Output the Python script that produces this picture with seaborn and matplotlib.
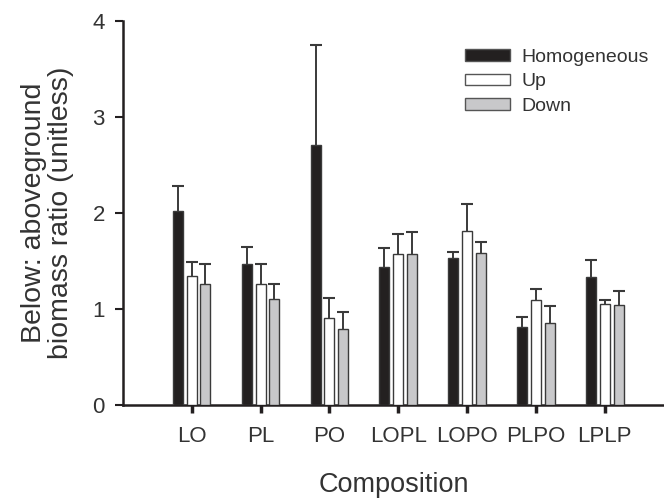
import matplotlib
matplotlib.use("Agg")
import matplotlib.pyplot as plt
import seaborn as sns
import pandas as pd
import numpy as np

compositions = ["LO", "PL", "PO", "LOPL", "LOPO", "PLPO", "LPLP"]
treatments = ["Homogeneous", "Up", "Down"]
homogeneous = [2.02, 1.47, 2.71, 1.44, 1.53, 0.81, 1.33]
homogeneous_err = [0.26, 0.18, 1.04, 0.19, 0.06, 0.11, 0.18]
up = [1.34, 1.26, 0.91, 1.57, 1.81, 1.09, 1.05]
up_err = [0.15, 0.21, 0.20, 0.21, 0.28, 0.12, 0.04]
down = [1.26, 1.10, 0.79, 1.57, 1.58, 0.85, 1.04]
down_err = [0.21, 0.16, 0.18, 0.23, 0.12, 0.18, 0.15]

rows = []
for t, vals, errs in [("Homogeneous", homogeneous, homogeneous_err),
                      ("Up", up, up_err), ("Down", down, down_err)]:
    for c, v, e in zip(compositions, vals, errs):
        rows.append({"Composition": c, "Treatment": t, "Ratio": v, "Err": e})
df = pd.DataFrame(rows)

sns.set_theme(style="ticks")
plt.rcParams['font.family'] = ['Liberation Sans', 'DejaVu Sans']

fig = plt.figure(figsize=(6.64, 5.01), dpi=100)
ax = fig.add_axes([0.185, 0.192, 0.815, 0.766])

colors = {"Homogeneous": "#231f20", "Up": "#ffffff", "Down": "#c8c8ca"}
sns.barplot(data=df, x="Composition", y="Ratio", hue="Treatment",
            hue_order=treatments, order=compositions, palette=colors,
            width=0.6, gap=0.27, errorbar=None, ax=ax,
            edgecolor="#3a3a3a", linewidth=1.0, zorder=3)

# error bars (upper only)
ecol = "#3a3a3a"
for cont, t in zip(ax.containers, treatments):
    sub = df[df.Treatment == t].set_index("Composition").loc[compositions]
    xs = np.array([p.get_x() + p.get_width() / 2 for p in cont.patches])
    hs = np.array([p.get_height() for p in cont.patches])
    tops = hs + sub["Err"].values
    ax.vlines(xs, hs, tops, colors=ecol, linewidth=1.4, zorder=2)
    ax.plot(xs, tops, ls="none", marker="_", ms=9, mew=1.5, color=ecol, zorder=2)

ax.set_xlim(-1.0, 6.86)
ax.set_ylim(0, 4)
ax.set_yticks([0, 1, 2, 3, 4])
ax.set_yticklabels(["0", "1", "2", "3", "4"])
ax.spines["top"].set_visible(False)
ax.spines["right"].set_visible(False)
for s in ["left", "bottom"]:
    ax.spines[s].set_linewidth(1.8)
    ax.spines[s].set_color("#231f20")
ax.tick_params(axis="y", direction="out", length=6, width=1.5, colors="#231f20",
               labelsize=16, labelcolor="#333333", pad=7)
ax.tick_params(axis="x", direction="out", length=6, width=2.5, colors="#231f20",
               labelsize=16, labelcolor="#333333", pad=9)

ax.set_xlabel("Composition", fontsize=19.5, color="#333333", labelpad=18)
ax.set_ylabel("Below: aboveground\nbiomass ratio (unitless)", fontsize=20.5,
              color="#333333", labelpad=13, linespacing=1.08)

leg = ax.legend(loc="upper left", bbox_to_anchor=(0.618, 0.947), frameon=False,
                fontsize=14, handlelength=2.3, handleheight=0.57,
                labelspacing=0.37, handletextpad=0.6, borderaxespad=0)
for txt in leg.get_texts():
    txt.set_color("#333333")
for h in leg.legend_handles:
    h.set_edgecolor("#555555")

fig.savefig("out.png", dpi=100)
